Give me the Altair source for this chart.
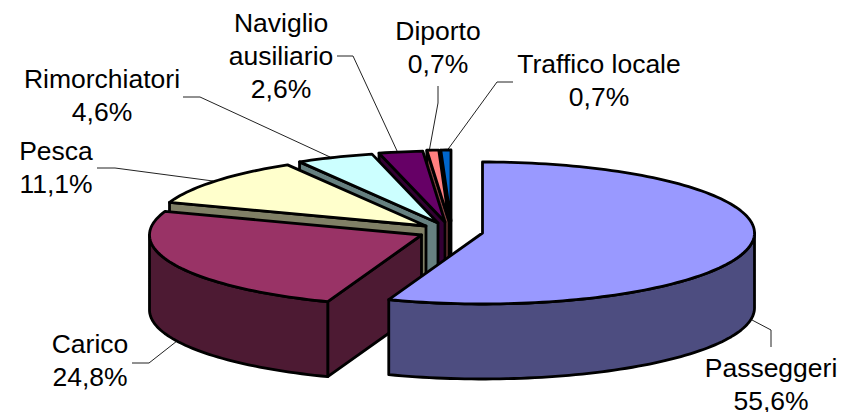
import math
import altair as alt

categories = ["Passeggeri", "Carico", "Pesca", "Rimorchiatori", "Naviglio ausiliario", "Diporto", "Traffico locale"]
shares = [55.6, 24.8, 11.1, 4.6, 2.6, 0.7, 0.7]
top_colors = ["#9999ff", "#993366", "#ffffcc", "#ccffff", "#660066", "#ff8080", "#0066cc"]
wall_colors = ["#4d4d80", "#4d1a33", "#808066", "#668080", "#330033", "#804040", "#003366"]

# layout (image pixels)
apex_x = [482.5, 421.5, 426, 438, 445, 449, 451]
apex_y = [233, 235, 226, 223, 222, 221, 221]
RX, RY, DEPTH = 272, 71, 75
M = 8

label_lines = [["Passeggeri"], ["Carico"], ["Pesca"], ["Rimorchiatori"], ["Naviglio", "ausiliario"], ["Diporto"], ["Traffico locale"]]
label_cx = [771, 90, 56, 102, 281, 438, 599]
label_base = [377, 353, 160, 88, 32, 40, 73]
LINE_H = 33
leaders = [
    [(752, 320), (771, 330), (771, 347)],
    [(177, 341), (149, 363), (132, 363)],
    [(97, 168), (115, 168), (213, 181)],
    [(183, 97), (200, 97), (330, 157)],
    [(337, 56), (353, 56), (398, 153)],
    [(438, 86), (438, 103), (429, 152)],
    [(513, 82), (497, 82), (446, 152)],
]


def pt(cx, cy, deg, dz=0):
    r = math.radians(deg)
    return [cx + RX * math.sin(r) - M, cy - RY * math.cos(r) + dz - M]


def arc(cx, cy, a, b, dz=0):
    n = max(2, int(abs(b - a) / 1.5) + 1)
    return [pt(cx, cy, a + (b - a) * i / n, dz) for i in range(n + 1)]


def poly(points, color):
    ring = points + [points[0]]
    return {"type": "Feature", "geometry": {"type": "Polygon", "coordinates": [ring]}, "properties": {"fill": color}}


starts, ends, c = [], [], 0.0
for s in shares:
    starts.append(c * 3.6)
    c += s
    ends.append(min(c * 3.6, 360.0))

features = []
for i in range(len(shares) - 1, -1, -1):
    cx, cy, a, b = apex_x[i], apex_y[i], starts[i], ends[i]
    ap = [cx - M, cy - M]
    apd = [cx - M, cy + DEPTH - M]
    if i != 0:
        features.append(poly([ap, pt(cx, cy, a), pt(cx, cy, a, DEPTH), apd], wall_colors[i]))
    lo, hi = max(a, 90), min(b, 270)
    if lo < hi:
        features.append(poly(arc(cx, cy, lo, hi) + arc(cx, cy, hi, lo, DEPTH), wall_colors[i]))
    features.append(poly([ap] + arc(cx, cy, a, b), top_colors[i]))

leader_features = [
    {"type": "Feature", "geometry": {"type": "LineString", "coordinates": [[x - M, y - M] for x, y in l]}, "properties": {}}
    for l in leaders
]

text_rows = []
for i, lines in enumerate(label_lines):
    pct = f"{shares[i]:.1f}%".replace(".", ",")
    for j, t in enumerate(lines + [pct]):
        text_rows.append({"t": t, "x": label_cx[i] - M, "y": label_base[i] + j * LINE_H - M})

proj = alt.Projection(type="identity", scale=1, translate=[0, 0])

pie = alt.Chart(alt.Data(values=features)).mark_geoshape(
    stroke="black", strokeWidth=2.8, strokeJoin="round", clip=False
).encode(fill=alt.Fill("properties.fill:N", scale=None)).project(**proj.to_dict())

lead = alt.Chart(alt.Data(values=leader_features)).mark_geoshape(
    filled=False, stroke="#222222", strokeWidth=1
).project(**proj.to_dict())

text = alt.Chart(alt.Data(values=text_rows)).mark_text(
    font="Liberation Sans", fontSize=26.5, align="center", baseline="alphabetic", color="black"
).encode(
    x=alt.X("x:Q", scale=None, axis=None),
    y=alt.Y("y:Q", scale=None, axis=None),
    text="t:N",
)

chart = alt.layer(lead, pie, text).properties(
    width=836, height=404, padding=0, autosize=alt.AutoSizeParams(type="none"), background="white"
).configure_view(stroke=None)

chart.save("out.html", embed_options={"renderer": "svg", "actions": False})
